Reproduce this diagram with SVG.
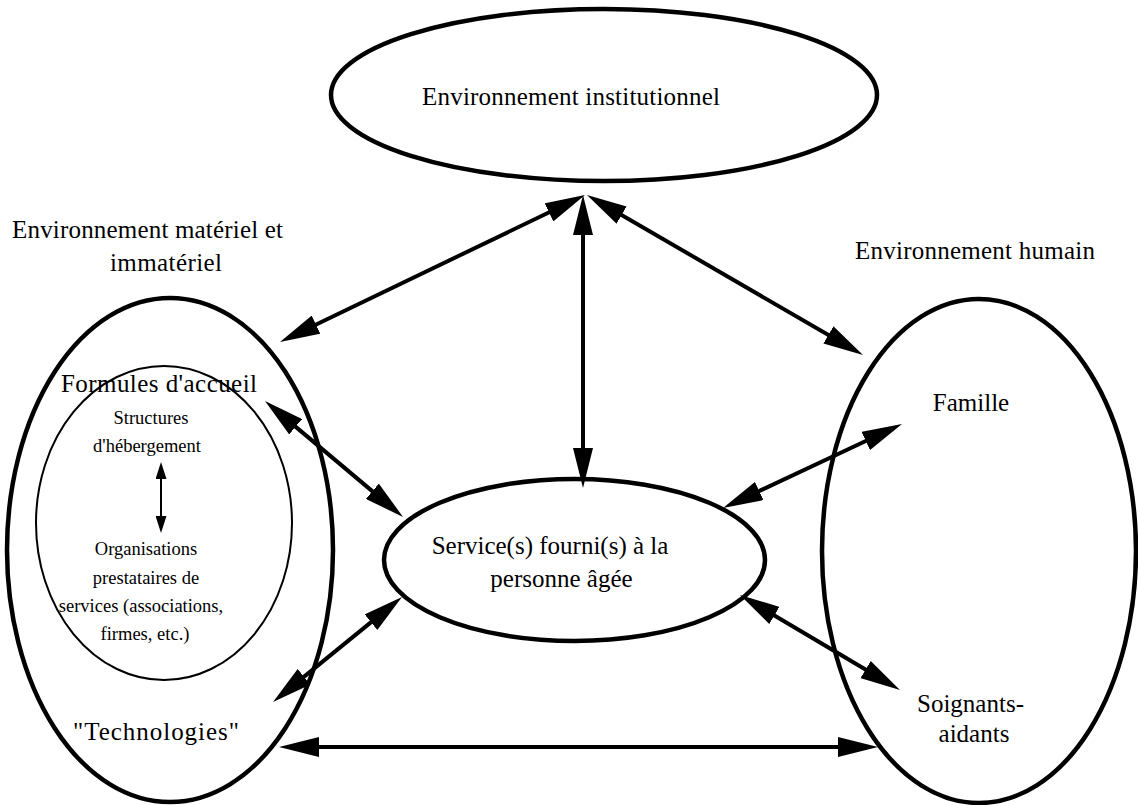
<svg xmlns="http://www.w3.org/2000/svg" width="1138" height="805" viewBox="0 0 1138 805">
<style>
  .big { fill: none; stroke: #000; stroke-width: 4.5; }
  .thin { fill: none; stroke: #000; stroke-width: 2; }
  .t { font-family: "Liberation Serif", "Times New Roman", serif; font-size: 25px; fill: #000; }
  .s { font-family: "Liberation Serif", "Times New Roman", serif; font-size: 18.5px; fill: #000; text-anchor: middle; }
  .c { text-anchor: middle; }
  .a { stroke: #000; stroke-width: 4; fill: none; marker-start: url(#ah); marker-end: url(#ah); }
  .a2 { stroke: #000; stroke-width: 2; fill: none; marker-start: url(#ahs); marker-end: url(#ahs); }
</style>
<defs>
  <marker id="ah" viewBox="0 0 40 20" refX="20" refY="10" markerWidth="40" markerHeight="20" markerUnits="userSpaceOnUse" orient="auto-start-reverse">
    <path d="M0,0 L40,10 L0,20 z" fill="#000"/>
  </marker>
  <marker id="ahs" viewBox="0 0 17 11" refX="8.5" refY="5.5" markerWidth="17" markerHeight="11" markerUnits="userSpaceOnUse" orient="auto-start-reverse">
    <path d="M0,0 L17,5.5 L0,11 z" fill="#000"/>
  </marker>
</defs>
<rect width="1138" height="805" fill="#fff"/>

<g id="institutionnel">
  <ellipse class="big" cx="604" cy="95" rx="273" ry="86"/>
  <text class="t" x="422" y="105" textLength="298" lengthAdjust="spacing">Environnement institutionnel</text>
</g>

<g id="label-materiel">
  <text class="t" x="12" y="238" textLength="271" lengthAdjust="spacing">Environnement matériel et</text>
  <text class="t" x="110" y="271" textLength="112" lengthAdjust="spacing">immatériel</text>
</g>

<g id="label-humain">
  <text class="t" x="855" y="259" textLength="240" lengthAdjust="spacing">Environnement humain</text>
</g>

<g id="materiel">
  <ellipse class="big" cx="170" cy="550" rx="163" ry="252"/>
  <text class="t" x="61" y="392" textLength="196" lengthAdjust="spacing">Formules d'accueil</text>
  <text class="t" x="73" y="740" textLength="166" lengthAdjust="spacing">"Technologies"</text>
</g>

<g id="accueil">
  <ellipse class="thin" cx="164" cy="523" rx="128" ry="157"/>
  <text class="s" x="151" y="424">Structures</text>
  <text class="s" x="147" y="452">d'hébergement</text>
  <text class="s" x="146" y="555">Organisations</text>
  <text class="s" x="146" y="584">prestataires de</text>
  <text class="s" x="141" y="612">services (associations,</text>
  <text class="s" x="145" y="640">firmes, etc.)</text>
</g>

<g id="service">
  <ellipse class="big" cx="574.5" cy="560" rx="190.5" ry="81"/>
  <text class="t c" x="550" y="554">Service(s) fourni(s) à la</text>
  <text class="t c" x="561.5" y="587">personne âgée</text>
</g>

<g id="humain">
  <ellipse class="big" cx="979" cy="551" rx="157" ry="252"/>
  <text class="t c" x="971" y="411">Famille</text>
  <text class="t c" x="970.5" y="712">Soignants-</text>
  <text class="t c" x="974" y="742">aidants</text>
</g>

<g id="connectors">
  <line class="a" x1="567" y1="203.7" x2="298" y2="333.3"/>
  <line class="a" x1="583" y1="215" x2="583" y2="468"/>
  <line class="a" x1="604.3" y1="205" x2="845.7" y2="345"/>
  <line class="a" x1="280.3" y1="413.9" x2="387.7" y2="504.1"/>
  <line class="a" x1="883.9" y1="432.5" x2="741.1" y2="499.5"/>
  <line class="a" x1="386.5" y1="609.6" x2="288.5" y2="689.4"/>
  <line class="a" x1="757.2" y1="605.2" x2="882.8" y2="679.8"/>
  <line class="a" x1="299" y1="747" x2="858" y2="747"/>
  <line class="a2" x1="161" y1="470.5" x2="161" y2="524.5"/>
</g>
</svg>
